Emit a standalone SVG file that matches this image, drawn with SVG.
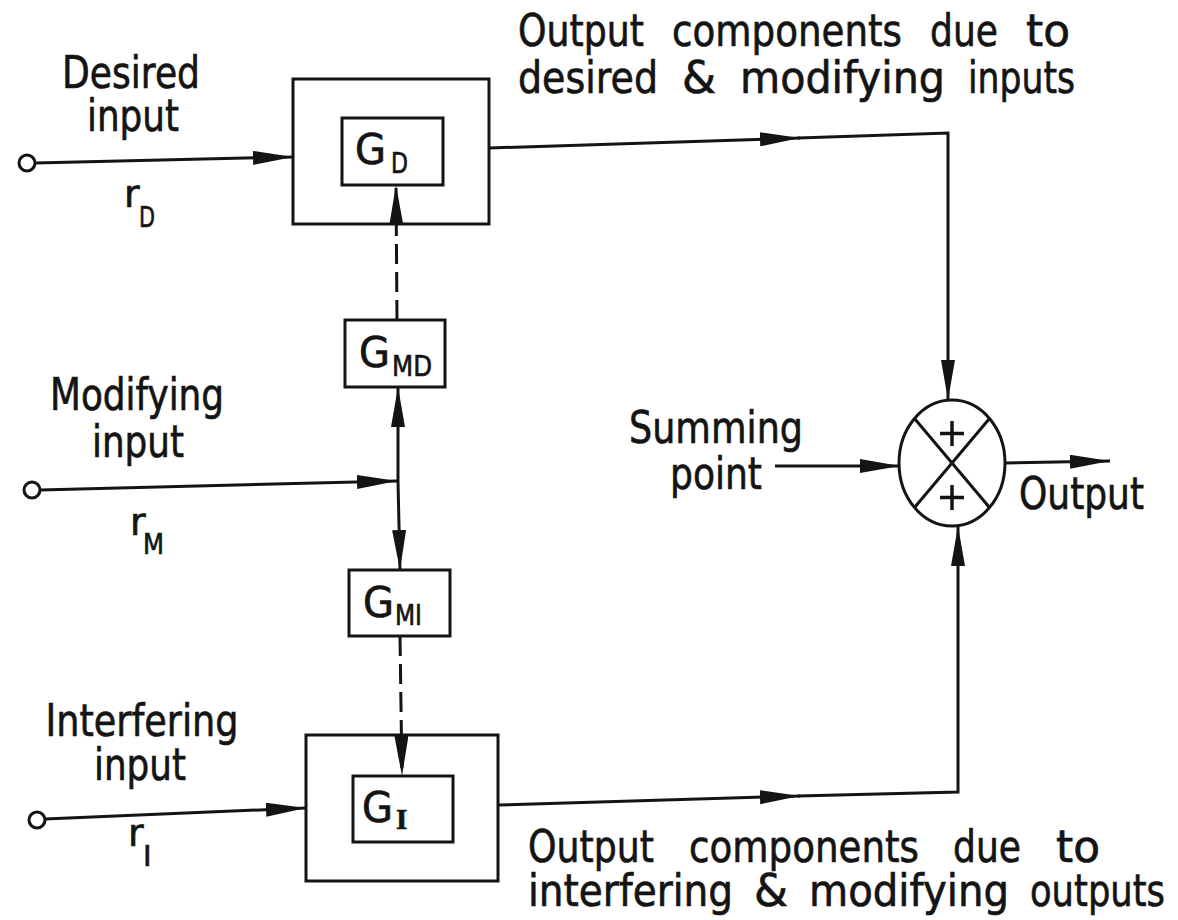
<svg xmlns="http://www.w3.org/2000/svg" width="1178" height="920" viewBox="0 0 1178 920">
<style>
text{font-family:"Liberation Sans Narrow","DejaVu Sans",sans-serif;fill:#141414;stroke:#141414;stroke-width:0.7;font-size:45px}
.lbl{text-anchor:middle}
.g{font-size:42px}
.sub{font-size:29px}
.r{font-size:38px}
.box{fill:none;stroke:#141414;stroke-width:3}
.ln{fill:none;stroke:#141414;stroke-width:3}
.dash{stroke-dasharray:20 8}
.term{fill:#fff;stroke:#141414;stroke-width:3}
</style>
<defs>
<marker id="ah" markerUnits="userSpaceOnUse" markerWidth="42" markerHeight="16" refX="40" refY="7" orient="auto">
<path d="M0,0 L40,7 L0,14 z" fill="#141414"/>
</marker>
</defs>
<rect width="1178" height="920" fill="#fff"/>

<g id="connectors">
<line class="ln" x1="35" y1="163" x2="293" y2="157" marker-end="url(#ah)"/>
<line class="ln" x1="40" y1="490" x2="397" y2="481" marker-end="url(#ah)"/>
<line class="ln" x1="45" y1="819" x2="306" y2="808" marker-end="url(#ah)"/>
<line class="ln" x1="489" y1="148" x2="800" y2="138" marker-end="url(#ah)"/>
<polyline class="ln" points="798,138 948,133 948,400" marker-end="url(#ah)"/>
<line class="ln" x1="498" y1="805" x2="800" y2="796" marker-end="url(#ah)"/>
<polyline class="ln" points="798,796 958,792 958,526" marker-end="url(#ah)"/>
<line class="ln dash" x1="397" y1="320" x2="396" y2="185" marker-end="url(#ah)"/>
<line class="ln" x1="398" y1="481" x2="398" y2="387" marker-end="url(#ah)"/>
<line class="ln" x1="398" y1="481" x2="400" y2="570" marker-end="url(#ah)"/>
<line class="ln dash" x1="400" y1="636" x2="402" y2="776" marker-end="url(#ah)"/>
<line class="ln" x1="775" y1="466" x2="900" y2="466" marker-end="url(#ah)"/>
<line class="ln" x1="1005" y1="463" x2="1110" y2="461" marker-end="url(#ah)"/>
</g>

<g id="in-desired">
<circle class="term" cx="27" cy="163" r="8"/>
<text class="lbl" x="131" y="88" textLength="138" lengthAdjust="spacingAndGlyphs">Desired</text>
<text class="lbl" x="133" y="131" textLength="92" lengthAdjust="spacingAndGlyphs">input</text>
<text class="r" x="124" y="207">r</text>
<text class="sub" x="139" y="227" textLength="16" lengthAdjust="spacingAndGlyphs">D</text>
</g>

<g id="in-modifying">
<circle class="term" cx="32" cy="490" r="8"/>
<text class="lbl" x="137" y="410" textLength="174" lengthAdjust="spacingAndGlyphs">Modifying</text>
<text class="lbl" x="138" y="457" textLength="92" lengthAdjust="spacingAndGlyphs">input</text>
<text class="r" x="130" y="535">r</text>
<text class="sub" x="143" y="554" textLength="21" lengthAdjust="spacingAndGlyphs">M</text>
</g>

<g id="in-interfering">
<circle class="term" cx="37" cy="820" r="8"/>
<text class="lbl" x="142" y="736" textLength="193" lengthAdjust="spacingAndGlyphs">Interfering</text>
<text class="lbl" x="140" y="780" textLength="92" lengthAdjust="spacingAndGlyphs">input</text>
<text class="r" x="128" y="846">r</text>
<text class="sub" x="143" y="866">I</text>
</g>

<g id="GD">
<rect class="box" x="293" y="79" width="196" height="145"/>
<rect class="box" x="342" y="118" width="101" height="67"/>
<text class="g" x="355" y="164" textLength="31" lengthAdjust="spacingAndGlyphs">G</text>
<text class="sub" x="391" y="173" textLength="17" lengthAdjust="spacingAndGlyphs">D</text>
</g>

<g id="GMD">
<rect class="box" x="345" y="320" width="100" height="67"/>
<text class="g" x="359" y="367" textLength="31" lengthAdjust="spacingAndGlyphs">G</text>
<text class="sub" x="392" y="376" textLength="40" lengthAdjust="spacingAndGlyphs">MD</text>
</g>

<g id="GMI">
<rect class="box" x="349" y="570" width="101" height="66"/>
<text class="g" x="363" y="617" textLength="31" lengthAdjust="spacingAndGlyphs">G</text>
<text class="sub" x="395" y="625" textLength="27" lengthAdjust="spacingAndGlyphs">MI</text>
</g>

<g id="GI">
<rect class="box" x="306" y="735" width="192" height="146"/>
<rect class="box" x="353" y="776" width="100" height="66"/>
<text class="g" x="362" y="822" textLength="31" lengthAdjust="spacingAndGlyphs">G</text>
<text class="sub" x="396" y="829" style="font-family:'Liberation Serif',serif;font-weight:bold">I</text>
</g>

<g id="sum">
<ellipse class="box" cx="952" cy="463" rx="53" ry="63"/>
<line class="ln" x1="914.5" y1="418.5" x2="989.5" y2="507.5"/>
<line class="ln" x1="989.5" y1="418.5" x2="914.5" y2="507.5"/>
<path d="M952,421 V446 M940,433.5 H964 M952,485 V510 M940,497.5 H964" fill="none" stroke="#141414" stroke-width="3.5"/>
</g>

<g id="labels">
<text x="518" y="46" textLength="126" lengthAdjust="spacingAndGlyphs">Output</text>
<text x="672" y="46" textLength="230" lengthAdjust="spacingAndGlyphs">components</text>
<text x="930" y="46" textLength="68" lengthAdjust="spacingAndGlyphs">due</text>
<text x="1026" y="46" textLength="44" lengthAdjust="spacingAndGlyphs">to</text>

<text x="518" y="93" textLength="140" lengthAdjust="spacingAndGlyphs">desired</text>
<text x="682" y="93" textLength="34" lengthAdjust="spacingAndGlyphs">&amp;</text>
<text x="740" y="93" textLength="205" lengthAdjust="spacingAndGlyphs">modifying</text>
<text x="968" y="93" textLength="107" lengthAdjust="spacingAndGlyphs">inputs</text>

<text x="528" y="862" textLength="126" lengthAdjust="spacingAndGlyphs">Output</text>
<text x="689" y="862" textLength="230" lengthAdjust="spacingAndGlyphs">components</text>
<text x="953" y="862" textLength="68" lengthAdjust="spacingAndGlyphs">due</text>
<text x="1056" y="862" textLength="44" lengthAdjust="spacingAndGlyphs">to</text>

<text x="528" y="906" textLength="205" lengthAdjust="spacingAndGlyphs">interfering</text>
<text x="754" y="906" textLength="34" lengthAdjust="spacingAndGlyphs">&amp;</text>
<text x="809" y="906" textLength="200" lengthAdjust="spacingAndGlyphs">modifying</text>
<text x="1030" y="906" textLength="135" lengthAdjust="spacingAndGlyphs">outputs</text>

<text class="lbl" x="716" y="443" textLength="174" lengthAdjust="spacingAndGlyphs">Summing</text>
<text class="lbl" x="716" y="489" textLength="92" lengthAdjust="spacingAndGlyphs">point</text>
<text x="1019" y="509" textLength="125" lengthAdjust="spacingAndGlyphs">Output</text>
</g>
</svg>
